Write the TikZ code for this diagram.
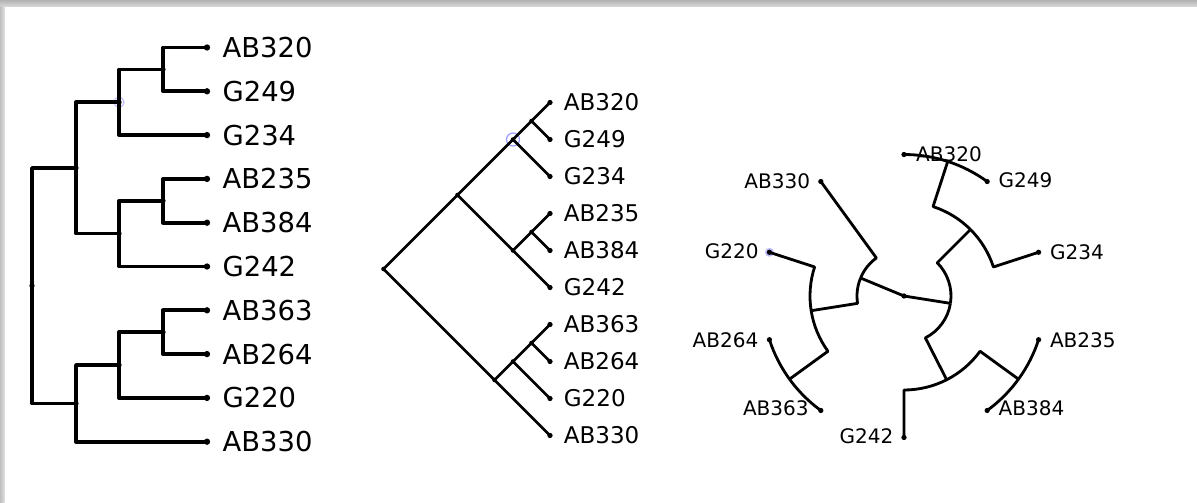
\documentclass[tikz,border=0pt]{standalone}
\usepackage{fontspec}
\setmainfont{DejaVu Sans}
\usetikzlibrary{positioning}
\tikzset{
  sq/.style={line width=2.1pt,line join=round},
  dg/.style={line width=1.5pt,line join=round},
  rd/.style={line width=1.6pt,line join=round},
  tipA/.style={circle,fill=black,inner sep=0pt,minimum size=3.6pt},
  knotA/.style={circle,fill=black,inner sep=0pt,minimum size=3pt},
  tipB/.style={circle,fill=black,inner sep=0pt,minimum size=3pt},
  knotB/.style={circle,fill=black,inner sep=0pt,minimum size=2.6pt},
  labA/.style={inner sep=0pt,font=\fontsize{15.6}{18}\selectfont},
  labB/.style={inner sep=0pt,font=\fontsize{13.1}{15}\selectfont},
  labC/.style={inner sep=0pt,font=\fontsize{11.4}{13}\selectfont},
  pick/.style={draw=blue!40,line width=0.7pt},
}

\begin{document}
\begin{tikzpicture}[x=0.02cm,y=0.02cm]
  \useasboundingbox (0,0) rectangle (1197,-503);
  % frame
  \shade[top color=gray!60,bottom color=gray!30] (0,0) rectangle (1197,-6.5);
  \shade[left color=gray!50,right color=gray!25] (0,-6.5) rectangle (4.5,-503);

  % rectangular tree
  \node[tipA] (l320) at (207,-47.5) {};  \node[labA,right=6.7pt of l320] {AB320};
  \node[tipA] (l249) at (207,-91.3) {};  \node[labA,right=6.7pt of l249] {G249};
  \node[tipA] (l234) at (207,-135.1) {}; \node[labA,right=6.7pt of l234] {G234};
  \node[tipA] (l235) at (207,-178.9) {}; \node[labA,right=6.7pt of l235] {AB235};
  \node[tipA] (l384) at (207,-222.7) {}; \node[labA,right=6.7pt of l384] {AB384};
  \node[tipA] (l242) at (207,-266.5) {}; \node[labA,right=6.7pt of l242] {G242};
  \node[tipA] (l363) at (207,-310.3) {}; \node[labA,right=6.7pt of l363] {AB363};
  \node[tipA] (l264) at (207,-354.1) {}; \node[labA,right=6.7pt of l264] {AB264};
  \node[tipA] (l220) at (207,-397.9) {}; \node[labA,right=6.7pt of l220] {G220};
  \node[tipA] (l330) at (207,-441.7) {}; \node[labA,right=6.7pt of l330] {AB330};
  \node[knotA] (lc1) at (163,-69.4) {};
  \node[knotA] (lc2) at (119,-102.25) {};
  \node[knotA] (lc3) at (163,-200.8) {};
  \node[knotA] (lc4) at (119,-233.65) {};
  \node[knotA] (lc5) at (76,-167.95) {};
  \node[knotA] (lc6) at (163,-332.2) {};
  \node[knotA] (lc7) at (119,-365.05) {};
  \node[knotA] (lc8) at (76,-403.4) {};
  \node[knotA] (lroot) at (32,-285.7) {};
  \draw[pick,draw=blue!25] (lc2) circle[radius=5];
  \draw[sq] (lc1.center) |- (l320.center); \draw[sq] (lc1.center) |- (l249.center);
  \draw[sq] (lc2.center) |- (lc1.center);  \draw[sq] (lc2.center) |- (l234.center);
  \draw[sq] (lc3.center) |- (l235.center); \draw[sq] (lc3.center) |- (l384.center);
  \draw[sq] (lc4.center) |- (lc3.center);  \draw[sq] (lc4.center) |- (l242.center);
  \draw[sq] (lc5.center) |- (lc2.center);  \draw[sq] (lc5.center) |- (lc4.center);
  \draw[sq] (lc6.center) |- (l363.center); \draw[sq] (lc6.center) |- (l264.center);
  \draw[sq] (lc7.center) |- (lc6.center);  \draw[sq] (lc7.center) |- (l220.center);
  \draw[sq] (lc8.center) |- (lc7.center);  \draw[sq] (lc8.center) |- (l330.center);
  \draw[sq] (lroot.center) |- (lc5.center); \draw[sq] (lroot.center) |- (lc8.center);

  % slanted tree
  \node[tipB] (m320) at (550,-102.5) {}; \node[labB,right=6pt of m320] {AB320};
  \node[tipB] (m249) at (550,-139.5) {}; \node[labB,right=6pt of m249] {G249};
  \node[tipB] (m234) at (550,-176.5) {}; \node[labB,right=6pt of m234] {G234};
  \node[tipB] (m235) at (550,-213.5) {}; \node[labB,right=6pt of m235] {AB235};
  \node[tipB] (m384) at (550,-250.5) {}; \node[labB,right=6pt of m384] {AB384};
  \node[tipB] (m242) at (550,-287.5) {}; \node[labB,right=6pt of m242] {G242};
  \node[tipB] (m363) at (550,-324.5) {}; \node[labB,right=6pt of m363] {AB363};
  \node[tipB] (m264) at (550,-361.5) {}; \node[labB,right=6pt of m264] {AB264};
  \node[tipB] (m220) at (550,-398.5) {}; \node[labB,right=6pt of m220] {G220};
  \node[tipB] (m330) at (550,-435.5) {}; \node[labB,right=6pt of m330] {AB330};
  \node[knotB] (mc1) at (531.5,-121) {};
  \node[knotB] (mc2) at (513,-139.5) {};
  \node[knotB] (mc3) at (531.5,-232) {};
  \node[knotB] (mc4) at (513,-250.5) {};
  \node[knotB] (mc5) at (457.5,-195) {};
  \node[knotB] (mc6) at (531.5,-343) {};
  \node[knotB] (mc7) at (513,-361.5) {};
  \node[knotB] (mc8) at (494.5,-380) {};
  \node[knotB] (mroot) at (383.5,-269) {};
  \draw[pick] (mc2) circle[radius=6.5];
  \draw[dg] (mc1.center) -- (m320.center); \draw[dg] (mc1.center) -- (m249.center);
  \draw[dg] (mc2.center) -- (mc1.center);  \draw[dg] (mc2.center) -- (m234.center);
  \draw[dg] (mc3.center) -- (m235.center); \draw[dg] (mc3.center) -- (m384.center);
  \draw[dg] (mc4.center) -- (mc3.center);  \draw[dg] (mc4.center) -- (m242.center);
  \draw[dg] (mc5.center) -- (mc2.center);  \draw[dg] (mc5.center) -- (mc4.center);
  \draw[dg] (mc6.center) -- (m363.center); \draw[dg] (mc6.center) -- (m264.center);
  \draw[dg] (mc7.center) -- (mc6.center);  \draw[dg] (mc7.center) -- (m220.center);
  \draw[dg] (mc8.center) -- (mc7.center);  \draw[dg] (mc8.center) -- (m330.center);
  \draw[dg] (mroot.center) -- (mc5.center); \draw[dg] (mroot.center) -- (mc8.center);

  % circular tree
  \begin{scope}[shift={(904,-296)}]
    \fill[blue!25] (162:141.5) circle[radius=4.5];
    \node[tipB] (c320) at (90:141.5) {};  \node[labC,right=5pt of c320] {AB320};
    \node[tipB] (c249) at (54:141.5) {};  \node[labC,right=4.6pt of c249,yshift=1pt] {G249};
    \node[tipB] (c234) at (18:141.5) {};  \node[labC,right=4.6pt of c234] {G234};
    \node[tipB] (c235) at (-18:141.5) {}; \node[labC,right=4.6pt of c235] {AB235};
    \node[tipB] (c384) at (-54:141.5) {}; \node[labC,right=4.6pt of c384,yshift=1.5pt] {AB384};
    \node[tipB] (c242) at (-90:141.5) {}; \node[labC,left=4.2pt of c242,yshift=1pt] {G242};
    \node[tipB] (c363) at (234:141.5) {}; \node[labC,left=5pt of c363,yshift=1.5pt] {AB363};
    \node[tipB] (c264) at (198:141.5) {}; \node[labC,left=4.4pt of c264] {AB264};
    \node[tipB] (c220) at (162:141.5) {}; \node[labC,left=4.2pt of c220,yshift=0.8pt] {G220};
    \node[tipB] (c330) at (126:141.5) {}; \node[labC,left=4.2pt of c330] {AB330};
    \node[tipB] (croot) at (0,0) {};
    \coordinate (cc1) at (-9:47);
    \coordinate (cc2) at (45:94);
    \coordinate (cc3) at (72:141.5);
    \coordinate (cc4) at (-63:94);
    \coordinate (cc5) at (-36:141.5);
    \coordinate (cc6) at (157.5:47);
    \coordinate (cc7) at (189:94);
    \coordinate (cc8) at (216:141.5);
    \draw[rd] (croot.center) -- (cc1); \draw[rd] (croot.center) -- (cc6);
    \draw[rd] (cc1) arc[start angle=-9,end angle=45,radius=47] -- (cc2);
    \draw[rd] (cc1) arc[start angle=-9,end angle=-63,radius=47] -- (cc4);
    \draw[rd] (cc2) arc[start angle=45,end angle=72,radius=94] -- (cc3);
    \draw[rd] (cc2) arc[start angle=45,end angle=18,radius=94] -- (c234.center);
    \draw[rd] (cc3) arc[start angle=72,end angle=90,radius=141.5] -- (c320.center);
    \draw[rd] (cc3) arc[start angle=72,end angle=54,radius=141.5] -- (c249.center);
    \draw[rd] (cc4) arc[start angle=-63,end angle=-36,radius=94] -- (cc5);
    \draw[rd] (cc4) arc[start angle=-63,end angle=-90,radius=94] -- (c242.center);
    \draw[rd] (cc5) arc[start angle=-36,end angle=-18,radius=141.5] -- (c235.center);
    \draw[rd] (cc5) arc[start angle=-36,end angle=-54,radius=141.5] -- (c384.center);
    \draw[rd] (cc6) arc[start angle=157.5,end angle=126,radius=47] -- (c330.center);
    \draw[rd] (cc6) arc[start angle=157.5,end angle=189,radius=47] -- (cc7);
    \draw[rd] (cc7) arc[start angle=189,end angle=162,radius=94] -- (c220.center);
    \draw[rd] (cc7) arc[start angle=189,end angle=216,radius=94] -- (cc8);
    \draw[rd] (cc8) arc[start angle=216,end angle=198,radius=141.5] -- (c264.center);
    \draw[rd] (cc8) arc[start angle=216,end angle=234,radius=141.5] -- (c363.center);
  \end{scope}
\end{tikzpicture}
\end{document}
